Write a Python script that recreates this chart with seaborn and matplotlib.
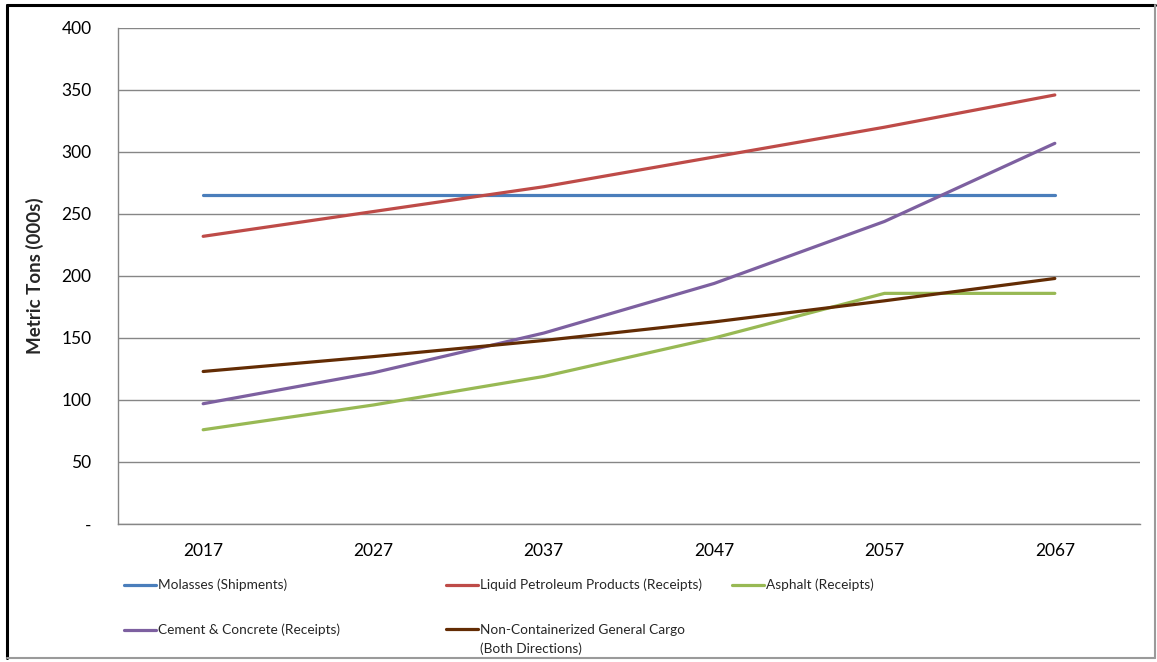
import matplotlib
matplotlib.use("Agg")
import matplotlib.pyplot as plt
import seaborn as sns
import pandas as pd
from matplotlib.lines import Line2D

years = ["2017", "2027", "2037", "2047", "2057", "2067"]
molasses = [265, 265, 265, 265, 265, 265]
liquid_petroleum = [232, 252, 272, 296, 320, 346]
asphalt = [76, 96, 119, 150, 186, 186]
cement = [97, 122, 154, 194, 244, 307]
non_container = [123, 135, 148, 163, 180, 198]

series_names = [
    "Molasses (Shipments)",
    "Liquid Petroleum Products (Receipts)",
    "Asphalt (Receipts)",
    "Cement & Concrete (Receipts)",
    "Non-Containerized General Cargo\n(Both Directions)",
]
series_values = [molasses, liquid_petroleum, asphalt, cement, non_container]
colors = ["#4A7EBB", "#BE4B48", "#98B954", "#7D60A0", "#632C04"]

y_ticks = [0, 50, 100, 150, 200, 250, 300, 350, 400]
y_tick_labels = ["-", "50", "100", "150", "200", "250", "300", "350", "400"]

rows = []
for name, vals in zip(series_names, series_values):
    for i, v in enumerate(vals):
        rows.append({"pos": i, "year": years[i], "value": v, "series": name})
df = pd.DataFrame(rows)

sns.set_theme(style="white")
plt.rcParams["font.family"] = ["Lato", "DejaVu Sans"]

fig = plt.figure(figsize=(11.57, 6.62), dpi=100)
ax = fig.add_axes([118 / 1157, 1 - 524 / 662, (1140 - 118) / 1157, (524 - 28) / 662])

sns.lineplot(data=df, x="pos", y="value", hue="series", hue_order=series_names,
             palette=colors, linewidth=2.3, ax=ax, legend=False, sort=False)

ax.set_xlim(-0.5, 5.5)
ax.set_ylim(0, 400)
ax.set_yticks(y_ticks)
ax.set_yticklabels(y_tick_labels, fontsize=12.5)
ax.set_xticks(range(len(years)))
ax.set_xticklabels(years, fontsize=12.5)
ax.set_xticks([i - 0.5 for i in range(len(years) + 1)], minor=True)
ax.tick_params(axis="x", which="major", length=0, pad=14, colors="black")
ax.tick_params(axis="x", which="minor", length=6, width=1, color="#868686", direction="out")
ax.tick_params(axis="y", which="major", length=6, width=1, color="#868686", direction="out",
               pad=13, labelcolor="black")
ax.yaxis.grid(True, color="#868686", linewidth=1)
ax.xaxis.grid(False)
for s in ["top", "right"]:
    ax.spines[s].set_visible(False)
for s in ["left", "bottom"]:
    ax.spines[s].set_color("#868686")
    ax.spines[s].set_linewidth(1)
ax.set_xlabel("")
ax.set_ylabel("Metric Tons (000s)", fontsize=13.5, fontweight="bold")
ax.yaxis.set_label_coords(-0.072, 0.5)

# Legend: one legend per entry placed like the reference
handles = [Line2D([0], [0], color=c, lw=2.3) for c in colors]
positions = [(124, 585), (446, 585), (732, 585), (124, 630), (446, 630)]
fs = 9.8
extra = []
for h, name, (px, py) in zip(handles, series_names, positions):
    parts = name.split("\n")
    leg = fig.legend([h], [parts[0]], loc="center left",
                     bbox_to_anchor=(px / 1157, 1 - py / 662),
                     frameon=False, fontsize=fs, handlelength=2.35,
                     handletextpad=0.15, borderaxespad=0, borderpad=0)
    if len(parts) > 1:
        extra.append((leg, parts[1:], py))

fig.canvas.draw()
renderer = fig.canvas.get_renderer()
for leg, rest, py in extra:
    x0 = leg.get_texts()[0].get_window_extent(renderer).x0
    for k, line in enumerate(rest):
        fig.text(x0 / fig.bbox.width, 1 - (py + 19 * (k + 1)) / 662, line,
                 fontsize=fs, va="center", ha="left", color=leg.get_texts()[0].get_color())

# figure frame
fig.add_artist(Line2D([7 / 1157, 7 / 1157], [1 - 658 / 662, 1 - 5 / 662], color="black", lw=2.2))
fig.add_artist(Line2D([7 / 1157, 1155 / 1157], [1 - 5 / 662, 1 - 5 / 662], color="black", lw=2.2))
fig.add_artist(Line2D([7 / 1157, 1155 / 1157], [1 - 658 / 662, 1 - 658 / 662], color="#9a9a9a", lw=1.5))
fig.add_artist(Line2D([1155 / 1157, 1155 / 1157], [1 - 658 / 662, 1 - 5 / 662], color="#9a9a9a", lw=1.5))

fig.savefig("out.png", dpi=100)
